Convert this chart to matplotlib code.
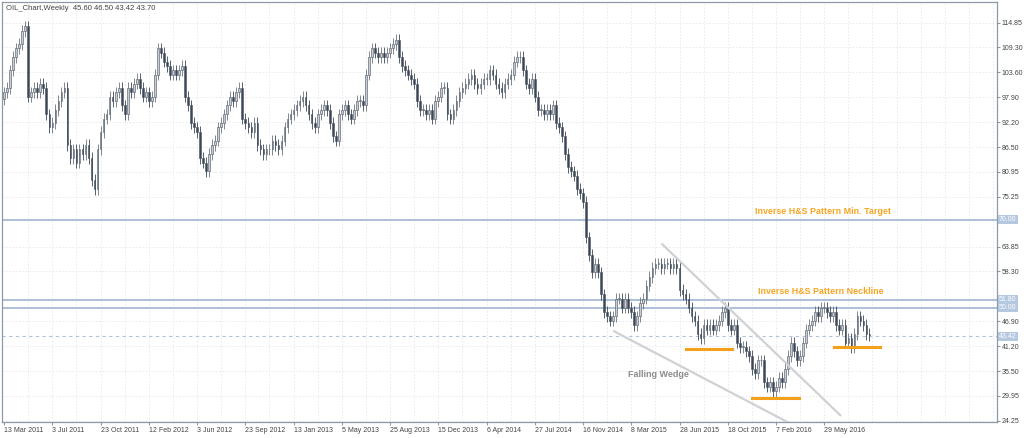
import numpy as np
import matplotlib
matplotlib.use("Agg")
import matplotlib.pyplot as plt

plt.rcParams["font.family"] = ["Liberation Sans", "DejaVu Sans"]

# ── Weekly closes ────────────────────────────────────────────────────────
closes = [
    99, 100, 104, 107, 109, 110, 113, 114, 98, 99, 100, 99, 101, 100,
    94, 91, 92, 95, 97, 99, 100, 87, 84, 86, 83, 86, 85, 87, 84, 79, 77,
    86, 90, 93, 94, 98, 97, 99, 100, 96, 94, 100, 99, 101, 102,
    100, 98, 99, 97, 98, 103, 109, 108, 106, 105, 103, 104, 103, 104, 105,
    98, 96, 92, 91, 90, 84, 83, 81, 85, 87, 88, 91, 92, 94,
    96, 98, 97, 99, 100, 93, 92, 91, 90, 92, 87, 86, 85, 86,
    86, 88, 87, 86, 88, 91, 93, 94, 95, 96, 97, 98, 96, 94, 92, 91,
    94, 95, 96, 95, 92, 89, 88, 94, 95, 96, 94, 93, 95, 97, 97, 96,
    103, 107, 109, 108, 107, 108, 107, 108, 109, 110, 111, 107, 105,
    104, 103, 102, 101, 97, 95, 95, 94, 95, 93, 97, 98, 100, 100, 94, 93,
    95, 97, 99, 100, 101, 102, 103, 101, 100, 101, 102, 102,
    104, 103, 101, 100, 99, 101, 102, 103, 106, 107, 107, 104,
    101, 100, 102, 98, 95, 95, 94, 95, 94, 96, 92, 91, 89, 85, 82, 81,
    80, 77, 76, 74, 66, 62, 58, 60, 58, 53, 49, 48, 47, 48, 52,
    52, 50, 52, 50, 49, 46, 48, 51, 52, 55, 57, 59, 60, 60, 59,
    60, 60, 59, 60, 59, 54, 53, 52, 50, 48, 47, 44, 43,
    46, 45, 46, 45, 46, 47, 49, 50, 46, 45, 46, 42, 41, 41, 40,
    39, 36, 35, 38, 38, 33, 32, 33, 31, 32, 34, 33, 36, 39, 42, 40, 38,
    39, 42, 45, 46, 47, 49, 48, 50, 50, 49, 48, 49, 46, 45, 46,
    42, 43, 41, 44, 48, 47, 46, 44, 43.7,
]
first_open = 97.5
wick = 1.3

date_labels = ["13 Mar 2011", "3 Jul 2011", "23 Oct 2011", "12 Feb 2012",
               "3 Jun 2012", "23 Sep 2012", "13 Jan 2013", "5 May 2013",
               "25 Aug 2013", "15 Dec 2013", "6 Apr 2014", "27 Jul 2014",
               "16 Nov 2014", "8 Mar 2015", "28 Jun 2015", "18 Oct 2015",
               "7 Feb 2016", "29 May 2016"]
price_ticks = [114.85, 109.30, 103.60, 97.90, 92.20, 86.50, 80.95, 75.25,
               63.85, 58.30, 46.90, 41.20, 35.50, 29.95, 24.25]
levels = [70.00, 51.80, 50.00]
last_price = 43.42

# annotation geometry in (week index, price)
wedge_top = [(218.3, 64.4), (277.3, 25.5)]
wedge_bot = [(202.3, 44.6), (261.3, 23.4)]
support = [((226, 241.5), 40.5), ((248, 263.5), 29.4), ((275.3, 290.5), 41.0)]

# ── Plot ─────────────────────────────────────────────────────────────────
fig = plt.figure(figsize=(10.24, 4.38), dpi=100)
ax = fig.add_axes([2 / 1024, 16 / 438, 995 / 1024, 420 / 438])
ymin, ymax = 23.95, 119.56
ax.set_xlim(-0.7, 329.3)
ax.set_ylim(ymin, ymax)

UP, DN = "#c9ccd1", "#3b4656"
opens = [first_open] + closes[:-1]
for i, (o, c) in enumerate(zip(opens, closes)):
    up = c >= o
    hi, lo = max(o, c) + wick, min(o, c) - wick
    ax.vlines(i, lo, hi, color=DN if not up else "#6b7480", lw=0.6, zorder=3)
    ax.bar(i, abs(c - o) or 0.15, bottom=min(o, c), width=0.55,
           color=UP if up else DN, edgecolor="#4a5361", lw=0.4, zorder=4)

# grid
for y in price_ticks:
    ax.axhline(y, color="#e6e8ec", lw=0.6, ls=(0, (2, 2)), zorder=0)
for x in range(8, 330, 8):
    ax.axvline(x, color="#e6e8ec", lw=0.6, ls=(0, (2, 2)), zorder=0)

# levels
for lv in levels:
    ax.axhline(lv, color="#a7bbd6", lw=1.3, zorder=2)
ax.axhline(last_price, color="#b4c2d8", lw=0.8, ls=(0, (3, 3)), zorder=2)

# wedge + supports
for seg in (wedge_top, wedge_bot):
    ax.plot([seg[0][0], seg[1][0]], [seg[0][1], seg[1][1]],
            color="#cfd1d4", lw=1.6, zorder=5)
for (x0, x1), y in support:
    ax.plot([x0, x1], [y, y], color="#f5a01a", lw=2.2, zorder=6)

ax.text(207, 34.2, "Falling Wedge", color="#8c8c8c", fontsize=6.5,
        fontweight="bold", zorder=7)
ax.text(249, 71.2, "Inverse H&S Pattern Min. Target", color="#f5a623",
        fontsize=6.4, fontweight="bold", zorder=7)
ax.text(250, 53.2, "Inverse H&S Pattern Neckline", color="#f5a623",
        fontsize=6.4, fontweight="bold", zorder=7)

# axes styling
for sp in ax.spines.values():
    sp.set_color("#8f98a6")
    sp.set_linewidth(0.9)
ax.yaxis.tick_right()
ax.set_yticks(price_ticks)
ax.set_yticklabels([f"{v:.2f}" for v in price_ticks])
ax.set_xticks(range(0, 16 * len(date_labels), 16))
ax.set_xticklabels(date_labels, ha="left")
ax.tick_params(axis="both", labelsize=5.0, colors="#8f98a6", labelcolor="#444",
               length=2, pad=1.5)

for lv in levels + [last_price]:
    ax.text(1.002, (lv - ymin) / (ymax - ymin), f"{lv:.2f}",
            transform=ax.transAxes, fontsize=5.0, color="white", va="center",
            ha="left", bbox=dict(boxstyle="square,pad=0.15",
                                 fc="#b4c8e0", ec="none"), zorder=8)

fig.text(6 / 1024, 1 - 9 / 438, "OIL_Chart,Weekly  45.60 46.50 43.42 43.70",
         fontsize=5.5, color="#444", va="center")

fig.savefig("out.png", dpi=100, facecolor="white")
